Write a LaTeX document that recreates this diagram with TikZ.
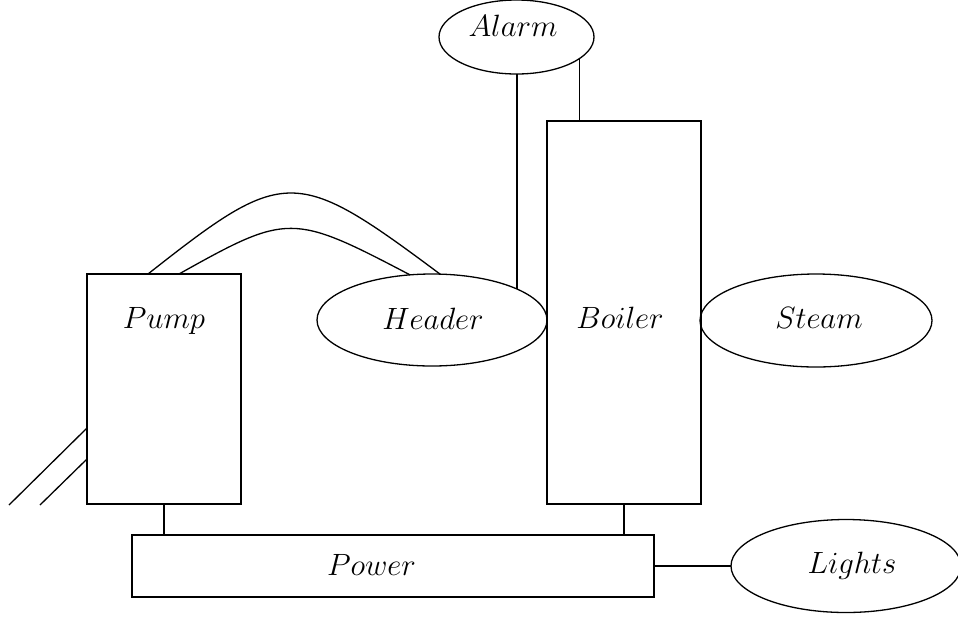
\RequirePackage{fix-cm}
\documentclass[tikz,border=0pt]{standalone}
\usetikzlibrary{shapes.geometric}
\begin{document}
\begin{tikzpicture}[x=0.5pt,y=-0.5pt,line width=0.65pt,
  box/.style={draw,rectangle,inner sep=0pt,outer sep=0pt},
  oval/.style={draw,ellipse,inner sep=0pt,outer sep=0pt},
  lbl/.style={anchor=base,inner sep=0pt,font=\fontsize{15.4}{18}\selectfont}]
\useasboundingbox (0,0) rectangle (958,617);
% shapes
\node[box,minimum width=77pt,minimum height=115pt] (pump) at (164,389) {};
\node[box,minimum width=77pt,minimum height=191.5pt] (boiler) at (624,312.5) {};
\node[box,minimum width=261pt,minimum height=31pt] (power) at (393,566) {};
\node[oval,minimum width=115pt,minimum height=46pt] (header) at (432,320) {};
\node[oval,minimum width=116pt,minimum height=46.5pt] (steam) at (816,320.5) {};
\node[oval,minimum width=115pt,minimum height=46.5pt] (lights) at (846,566) {};
\node[oval,minimum width=77.5pt,minimum height=37pt] (alarm) at (516.5,37) {};
% labels
\node[lbl] (pumpT) at (164,328) {$Pump$};
\node[lbl] (headerT) at (433,329) {$Header$};
\node[lbl] (boilerT) at (620,328) {$Boiler$};
\node[lbl] (steamT) at (819,328) {$Steam$};
\node[lbl] (powerT) at (371.5,575) {$Power$};
\node[lbl] (lightsT) at (852,573) {$Lights$};
\node[lbl] (alarmT) at (513,36) {$Alarm$};
% connectors
\draw (header.20.5 |- alarm.south) -- (header.20.5);
\draw (alarm.-19.7) -- (alarm.-19.7 |- boiler.north);
\draw ([xshift=30.5pt]pump.north west) .. controls (285,166) and (295,166) .. (header.80);
\draw ([xshift=46pt]pump.north west) .. controls (288,213) and (292,213) .. (header.116);
\coordinate (f1) at (9,505);
\coordinate (f2) at (40,505);
\draw (f1) -- ([yshift=38pt]pump.south west);
\draw (f2) -- ([yshift=22.5pt]pump.south west);
\draw (pump.south) -- (pump.south |- power.north);
\draw (boiler.south) -- (boiler.south |- power.north);
\draw (power.east) -- (lights.west);
\end{tikzpicture}
\end{document}
